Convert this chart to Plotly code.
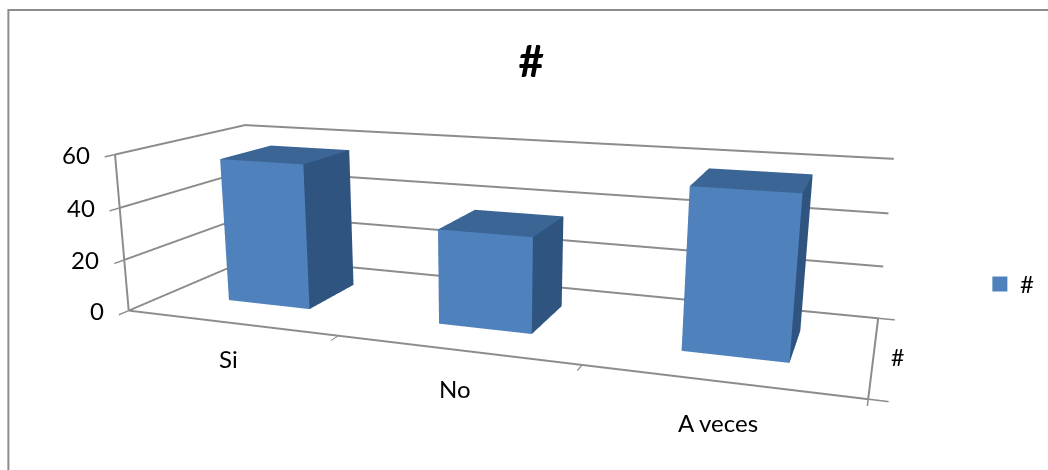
import plotly.graph_objects as go

categories = ["Si", "No", "A veces"]
values = [56, 35.5, 57]
series_name = "#"
title = "#"
z_ticks = [0, 20, 40, 60]
cat_ticks = [-0.5, 0.5, 1.5, 2.5]

FRONT = "#4F81BD"
SIDE = "#2F5480"
TOP = "#3A6595"
GRID = "#8C8C8C"
BAR_W = 0.4
BAR_D = 0.42
BAR_SHIFT = 0.012
FONT = "Lato, Carlito, Arial"


def bar(i, v):
    x0, x1 = i + BAR_SHIFT - BAR_W / 2, i + BAR_SHIFT + BAR_W / 2
    y0, y1 = 0.5 - BAR_D / 2, 0.5 + BAR_D / 2
    xs = [x0, x1, x1, x0, x0, x1, x1, x0]
    ys = [y0, y0, y1, y1, y0, y0, y1, y1]
    zs = [0, 0, 0, 0, v, v, v, v]
    I = [0, 0, 1, 1, 4, 4, 0, 0, 3, 3, 2, 2]
    J = [1, 5, 2, 6, 5, 6, 3, 7, 2, 6, 3, 0]
    K = [5, 4, 6, 5, 6, 7, 7, 4, 6, 7, 0, 1]
    fc = [FRONT, FRONT, SIDE, SIDE, TOP, TOP, SIDE, SIDE, SIDE, SIDE, SIDE, SIDE]
    return go.Mesh3d(
        x=xs, y=ys, z=zs, i=I, j=J, k=K, facecolor=fc, flatshading=True,
        lighting=dict(ambient=1, diffuse=0, specular=0, roughness=1, fresnel=0),
        hoverinfo="skip", showlegend=False,
    )


fig = go.Figure([bar(i, v) for i, v in enumerate(values)])
fig.add_trace(go.Scatter3d(
    x=[None], y=[None], z=[None], mode="markers", name=series_name, showlegend=True,
    marker=dict(symbol="square", size=15, color=FRONT),
))

label_font = dict(family=FONT, size=24, color="black")
annotations = []
for i, c in enumerate(categories):
    annotations.append(dict(x=i, y=0, z=0, text=c, showarrow=False, yshift=-36 - 2.5 * i, xshift=-1, font=label_font))
for t in z_ticks:
    annotations.append(dict(x=-0.5, y=0, z=t, text=str(t), showarrow=False, xanchor="right",
                            xshift=-23, font=dict(family=FONT, size=24, color="black")))
annotations.append(dict(x=2.5, y=0.5, z=0, text=series_name, showarrow=False, xanchor="left",
                        xshift=15, yshift=-2, font=dict(family=FONT, size=23, color="black")))

fig.update_layout(
    width=1048, height=470,
    margin=dict(l=0, r=0, t=0, b=0),
    paper_bgcolor="white",
    font=dict(family=FONT, color="black"),
    title=dict(text="<b>%s</b>" % title, x=0.507, xanchor="center", y=0.87, yanchor="middle",
               font=dict(size=44, color="black")),
    showlegend=True,
    legend=dict(x=0.935, y=0.395, xanchor="left", yanchor="middle", font=dict(size=24),
                itemsizing="trace", bgcolor="rgba(0,0,0,0)"),
    scene=dict(
        domain=dict(x=[0.0, 0.922], y=[0.0, 0.766]),
        aspectmode="manual",
        aspectratio=dict(x=2.4, y=0.7956, z=0.535),
        camera=dict(
            eye=dict(x=1.2254, y=-3.4593, z=0.8446),
            center=dict(x=-0.0472, y=-0.0302, z=-0.1787),
            up=dict(x=0, y=0, z=1),
            projection=dict(type="perspective"),
        ),
        annotations=annotations,
        xaxis=dict(
            title="", range=[-0.5, 2.5], tickvals=cat_ticks, showticklabels=False,
            showgrid=False, showline=True, linecolor=GRID, linewidth=4, ticks="outside",
            tickcolor=GRID, tickwidth=3, showbackground=False, zeroline=False, showspikes=False,
        ),
        yaxis=dict(
            title=dict(text=""), range=[0, 1], tickvals=[0, 1], showticklabels=False,
            showgrid=False, showline=True, linecolor=GRID, linewidth=4, ticks="outside",
            tickcolor=GRID, tickwidth=3, showbackground=False, zeroline=False, showspikes=False,
        ),
        zaxis=dict(
            title="", range=[0, 60], tickvals=z_ticks, showticklabels=False,
            showgrid=True, gridcolor=GRID, gridwidth=4, showline=True, linecolor=GRID,
            linewidth=4, ticks="outside", tickcolor=GRID, tickwidth=3,
            showbackground=False, zeroline=False, showspikes=False,
        ),
    ),
    shapes=[dict(type="rect", xref="paper", yref="paper", x0=0.008, x1=1.05, y0=-0.05, y1=0.9787,
                 line=dict(color="#8C8C8C", width=2), fillcolor="rgba(0,0,0,0)")],
)
post = """
document.body.style.margin = '0';
document.body.style.overflow = 'hidden';
(function () {
  var gd = document.getElementById('{plot_id}');
  var n = 0;
  var h = setInterval(function () {
    n += 1;
    var s = gd._fullLayout && gd._fullLayout.scene && gd._fullLayout.scene._scene;
    if (s && s.glplot) {
      s.glplot.fovy = 0.3142;
      s.glplot.redraw();
    }
    if (n > 60) clearInterval(h);
  }, 50);
})();
"""
fig.write_html("out.html", post_script=post, config=dict(displayModeBar=False))
